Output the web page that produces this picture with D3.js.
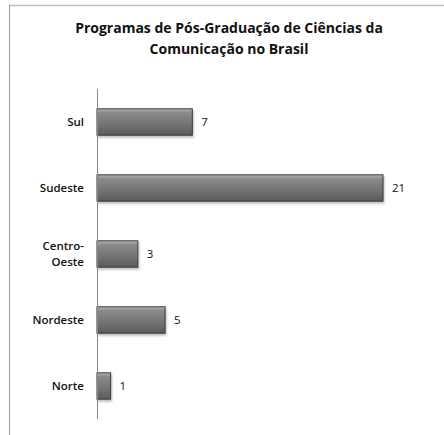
<!DOCTYPE html>
<html>
<head>
<meta charset="utf-8">
<script src="https://cdn.jsdelivr.net/npm/d3@7"></script>
<style>
  body { margin: 0; background: #fff; }
  text { font-family: "Open Sans", "Noto Sans", sans-serif; fill: #111; }
</style>
</head>
<body>
<div id="chart"></div>
<script>
(function(){

    var regions = ["Sul", "Sudeste", "Centro-Oeste", "Nordeste", "Norte"];
    var labelLines = [["Sul"], ["Sudeste"], ["Centro-", "Oeste"], ["Nordeste"], ["Norte"]];
    var programas = [7, 21, 3, 5, 1];
    var titleLines = ["Programas de Pós-Graduação de Ciências da", "Comunicação no Brasil"];

    var W = 444, H = 435;
    var margin = {top: 89, left: 97};

    var svg = d3.select("#chart").append("svg")
        .attr("width", W)
        .attr("height", H);

    var defs = svg.append("defs");
    // bevel-ish gradient for the bars
    var grad = defs.append("linearGradient")
        .attr("id", "barGrad")
        .attr("x1", 0).attr("y1", 0).attr("x2", 0).attr("y2", 1);
    grad.append("stop").attr("offset", "0%").attr("stop-color", "#b4b4b4");
    grad.append("stop").attr("offset", "15%").attr("stop-color", "#8a8a8a");
    grad.append("stop").attr("offset", "60%").attr("stop-color", "#737373");
    grad.append("stop").attr("offset", "100%").attr("stop-color", "#5a5a5a");

    var shadow = defs.append("filter").attr("id", "shadow")
        .attr("x", "-5%").attr("y", "-20%").attr("width", "120%").attr("height", "160%");
    shadow.append("feDropShadow").attr("dx", 1).attr("dy", 2).attr("stdDeviation", 1.2)
        .attr("flood-color", "#000").attr("flood-opacity", 0.25);

    // chart frame (top and left edges)
    svg.append("line").attr("x1", 9).attr("x2", W).attr("y1", 5.5).attr("y2", 5.5)
        .attr("stroke", "#bdbdbd").attr("stroke-width", 1.5);
    svg.append("line").attr("x1", 9.5).attr("x2", 9.5).attr("y1", 5).attr("y2", H)
        .attr("stroke", "#9a9a9a").attr("stroke-width", 1);

    // title
    svg.append("g").selectAll("text")
        .data(titleLines)
      .enter().append("text")
        .attr("x", 229)
        .attr("y", function(d, i) { return 33 + i * 21; })
        .attr("text-anchor", "middle")
        .attr("font-size", 14)
        .attr("font-weight", "bold")
        .text(function(d) { return d; });

    var x = d3.scaleLinear().domain([0, 21]).range([margin.left, 383]);
    var y = d3.scaleBand().domain(regions).range([margin.top, 419]).paddingInner(0.6).paddingOuter(0.3);

    // bars
    svg.append("g").selectAll("rect")
        .data(programas)
      .enter().append("rect")
        .attr("x", x(0))
        .attr("y", function(d, i) { return y(regions[i]); })
        .attr("width", function(d) { return x(d) - x(0); })
        .attr("height", y.bandwidth())
        .attr("fill", "url(#barGrad)")
        .attr("stroke", "#3a3a3a")
        .attr("stroke-width", 1)
        .attr("filter", "url(#shadow)");

    // value labels
    svg.append("g").selectAll("text")
        .data(programas)
      .enter().append("text")
        .attr("x", function(d) { return x(d) + 9; })
        .attr("y", function(d, i) { return y(regions[i]) + y.bandwidth() / 2; })
        .attr("dy", "0.35em")
        .attr("font-size", 11.5)
        .text(function(d) { return d; });

    // axis line
    svg.append("line")
        .attr("x1", x(0) + 0.5).attr("x2", x(0) + 0.5)
        .attr("y1", margin.top).attr("y2", 419)
        .attr("stroke", "#888");

    // category labels
    var cat = svg.append("g").selectAll("text")
        .data(labelLines)
      .enter().append("text")
        .attr("x", 84)
        .attr("y", function(d, i) { return y(regions[i]) + y.bandwidth() / 2 - (d.length - 1) * 8; })
        .attr("text-anchor", "end")
        .attr("font-size", 11.5)
        .attr("font-weight", 600);
    cat.selectAll("tspan")
        .data(function(d) { return d; })
      .enter().append("tspan")
        .attr("x", 84)
        .attr("dy", function(d, i) { return i === 0 ? "0.35em" : "16"; })
        .text(function(d) { return d; });

})();
</script>
</body>
</html>
